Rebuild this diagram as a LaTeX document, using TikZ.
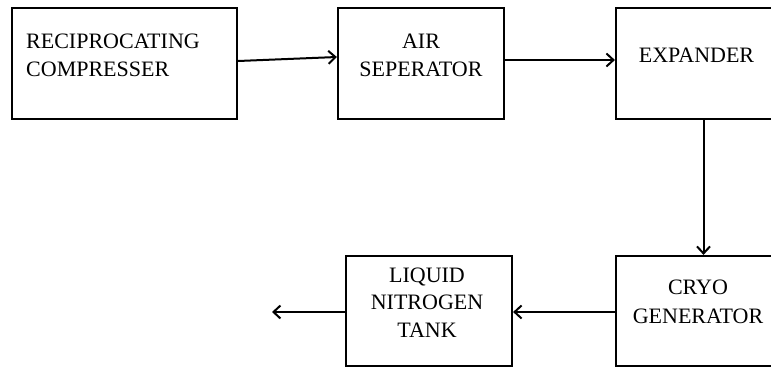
\documentclass[tikz,border=0pt]{standalone}
\usepackage{fontspec}
\setmainfont{Liberation Serif}
\usetikzlibrary{arrows.meta}
\begin{document}
\begin{tikzpicture}[x=1pt,y=-1pt,
  box/.style={draw=black,line width=2.2pt,minimum width=#1,inner sep=0pt,fill=white},
  lbl/.style={anchor=base,inner sep=0pt,font=\fontsize{22}{26}\selectfont},
  arr/.style={line width=2pt,-{Straight Barb[length=7pt,width=13pt,line width=2pt]}}]
\useasboundingbox (0,0) rectangle (771,367);
\begin{scope}
\clip (0,0) rectangle (771,367);
\node[box=225pt,minimum height=111pt] (b1) at (124.5,63.5) {};
\node[box=166pt,minimum height=111pt] (b2) at (421,63.5) {};
\node[box=160pt,minimum height=111pt] (b3) at (696,63.5) {};
\node[box=160pt,minimum height=110pt] (b4) at (696,311) {};
\node[box=166pt,minimum height=110pt] (b5) at (429,311) {};
\end{scope}
\node[lbl,anchor=base west] (t1a) at (26,48) {RECIPROCATING};
\node[lbl,anchor=base west] (t1b) at (26,76) {COMPRESSER};
\node[lbl] (t2a) at (421,48) {AIR};
\node[lbl] (t2b) at (421,76) {SEPERATOR};
\node[lbl] (t3) at (696.5,62) {EXPANDER};
\node[lbl] (t4a) at (698,294) {CRYO};
\node[lbl] (t4b) at (698,323) {GENERATOR};
\node[lbl] (t5a) at (427,282) {LIQUID};
\node[lbl] (t5b) at (427,309) {NITROGEN};
\node[lbl] (t5c) at (427,337) {TANK};
\coordinate (out) at (272,312);
\draw[arr] ([yshift=2.5pt]b1.east) -- ([yshift=6.5pt]b2.west);
\draw[arr] ([yshift=3.5pt]b2.east) -- ([yshift=3.5pt]b3.west);
\draw[arr] ([xshift=7.5pt]b3.south) -- ([xshift=7.5pt]b4.north);
\draw[arr] ([yshift=-1pt]b4.west) -- ([yshift=-1pt]b5.east);
\draw[arr] ([yshift=-1pt]b5.west) -- (out);
\end{tikzpicture}
\end{document}
